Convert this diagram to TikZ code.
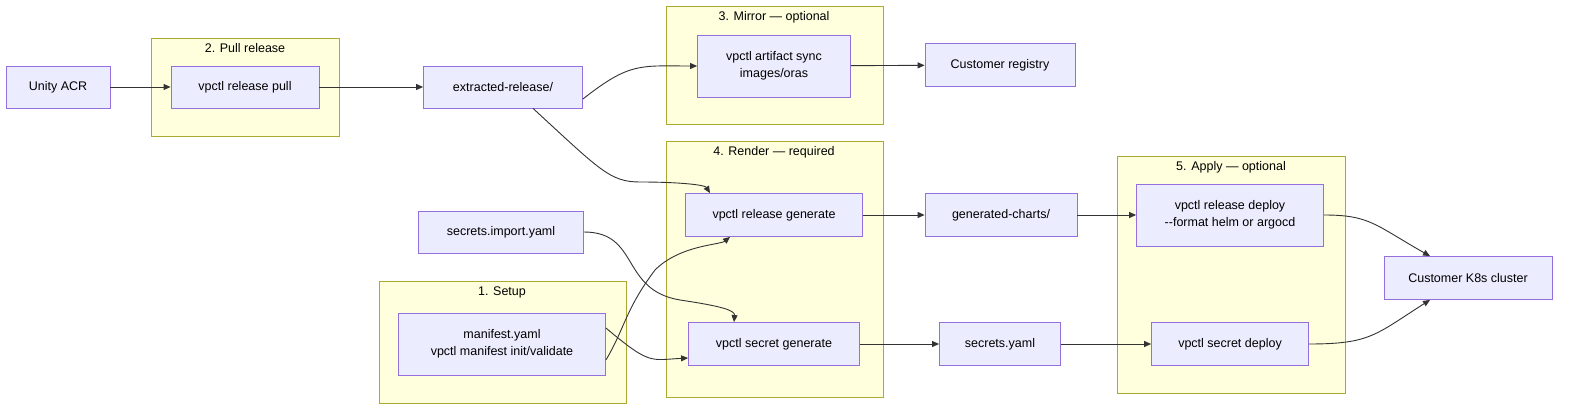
\documentclass[tikz,border=0pt]{standalone}
\usepackage{fontspec}
\setmainfont{Liberation Sans}
\usetikzlibrary{arrows.meta}
\definecolor{ndfill}{HTML}{ECECFF}
\definecolor{ndline}{HTML}{9370DB}
\definecolor{clfill}{HTML}{FFFFDE}
\definecolor{clline}{HTML}{AAAA33}
\definecolor{arcol}{HTML}{333333}
\begin{document}
\begin{tikzpicture}[x=1pt,y=-1pt,
  nd/.style={draw=ndline,fill=ndfill,line width=0.8pt,align=center,font=\fontsize{12.5}{17}\selectfont,inner sep=0pt},
  cl/.style={draw=clline,fill=clfill,line width=0.8pt},
  ct/.style={font=\fontsize{12.5}{15}\selectfont,anchor=north},
  ar/.style={draw=arcol,line width=0.9pt,-{Triangle[length=7pt,width=6pt]}}]
\useasboundingbox (0,0) rectangle (1584,417);
% clusters
\draw[cl] (151,38) rectangle (339,136); \node[ct] (c2) at (245,40) {2. Pull release};
\draw[cl] (666,6) rectangle (883,124); \node[ct] (c3) at (774,8) {3. Mirror — optional};
\draw[cl] (666,141) rectangle (883,397); \node[ct] (c4) at (774,143) {4. Render — required};
\draw[cl] (379,281) rectangle (626,403); \node[ct] (c1) at (502,283) {1. Setup};
\draw[cl] (1117,156) rectangle (1345,393); \node[ct] (c5) at (1231,158) {5. Apply — optional};
% nodes
\node[nd,minimum width=104,minimum height=42] (acr) at (58,87) {Unity ACR};
\node[nd,minimum width=148,minimum height=42] (pull) at (245,87) {vpctl release pull};
\node[nd,minimum width=159,minimum height=42] (ext) at (503,87) {extracted-release/};
\node[nd,minimum width=153,minimum height=62] (sync) at (774,66) {vpctl artifact sync\\images/oras};
\node[nd,minimum width=150,minimum height=43] (reg) at (1000,65) {Customer registry};
\node[nd,minimum width=177,minimum height=43] (rgen) at (774,215) {vpctl release generate};
\node[nd,minimum width=171,minimum height=43] (sgen) at (774,344) {vpctl secret generate};
\node[nd,minimum width=165,minimum height=42] (simp) at (501,232) {secrets.import.yaml};
\node[nd,minimum width=207,minimum height=62] (man) at (502,344) {manifest.yaml\\vpctl manifest init/validate};
\node[nd,minimum width=152,minimum height=43] (gch) at (1001,215) {generated-charts/};
\node[nd,minimum width=121,minimum height=43] (sy) at (1000,344) {secrets.yaml};
\node[nd,minimum width=187,minimum height=62] (rdep) at (1230,215) {vpctl release deploy\\{-}{-}format helm or argocd};
\node[nd,minimum width=157,minimum height=43] (sdep) at (1230,344) {vpctl secret deploy};
\node[nd,minimum width=168,minimum height=43] (k8s) at (1468,278) {Customer K8s cluster};
% edges
\draw[ar] (acr) -- (pull);
\draw[ar] (pull) -- (ext);
\draw[ar] ([yshift=-12]ext.east) .. controls (630,62) and (640,66) .. (sync.west);
\draw[ar] (sync) -- (reg);
\draw[ar] ([xshift=30]ext.south) .. controls (600,170) and (610,182) .. (640,182) .. controls (680,182) and (705,185) .. ([xshift=-64]rgen.north);
\draw[ar] ([yshift=-16]man.east) .. controls (625,328) and (625,310) .. (655,270) .. controls (680,245) and (720,245) .. ([xshift=-44]rgen.south);
\draw[ar] ([yshift=16]man.east) .. controls (650,365) and (650,360) .. (sgen.west|-0,358);
\draw[ar] (simp.east) .. controls (640,232) and (620,290) .. (680,300) .. controls (720,306) and (735,310) .. ([xshift=-40]sgen.north);
\draw[ar] (rgen) -- (gch);
\draw[ar] (gch) -- (rdep);
\draw[ar] (sgen) -- (sy);
\draw[ar] (sy) -- (sdep);
\draw[ar] (rdep.east) .. controls (1370,215) and (1375,225) .. ([xshift=-38]k8s.north);
\draw[ar] (sdep.east) .. controls (1370,344) and (1375,335) .. ([xshift=-38]k8s.south);
\end{tikzpicture}
\end{document}
